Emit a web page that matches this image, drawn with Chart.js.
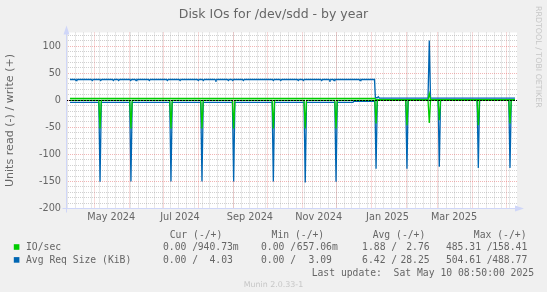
<!DOCTYPE html>
<html>
<head>
<meta charset="utf-8">
<title>Disk IOs for /dev/sdd - by year</title>
<script src="https://cdn.jsdelivr.net/npm/chart.js@4.4.1/dist/chart.umd.min.js"></script>
<style>
    html, body { margin: 0; padding: 0; background: #f0f0f0; }
    #wrap { width: 547px; height: 292px; }
</style>
</head>
<body>
<div id="wrap"><canvas id="diskChart" width="547" height="292"></canvas></div>
<script>
// Munin diskstats graph: Disk IOs for /dev/sdd, 400 day view
// x values are days since the left edge of the graph (5 Apr 2024 08:50 UTC)
// read is drawn below zero (-), write above zero (+)

const graphStart = Date.UTC(2024, 3, 5, 8, 50);
const graphDays = 400;

// Axis ticks
const monthStarts = ['2024-05-01', '2024-06-01', '2024-07-01', '2024-08-01', '2024-09-01',
    '2024-10-01', '2024-11-01', '2024-12-01', '2025-01-01', '2025-02-01', '2025-03-01',
    '2025-04-01', '2025-05-01'];
const monthLabelStarts = ['2024-05-01', '2024-07-01', '2024-09-01', '2024-11-01', '2025-01-01', '2025-03-01'];
const monthLabels = ['May 2024', 'Jul 2024', 'Sep 2024', 'Nov 2024', 'Jan 2025', 'Mar 2025'];
const firstWeekLine = '2024-04-07';
const yTickLabels = [-200, -150, -100, -50, 0, 50, 100];
const yMin = -200;
const yMax = 125;

// IO/sec, read (-)
const ioRead = [
    [3.5, -0.3],
    [29.1, -0.3], [30.2, -52], [31.3, -0.3],
    [56.5, -0.3], [57.6, -52], [58.7, -0.3],
    [92.0, -0.3], [93.1, -52], [94.2, -0.3],
    [119.5, -0.3], [120.6, -52], [121.7, -0.3],
    [147.6, -0.3], [148.7, -52], [149.8, -0.3],
    [182.8, -0.3], [183.9, -52], [185.0, -0.3],
    [211.1, -0.3], [212.2, -52], [213.3, -0.3],
    [238.4, -0.3], [239.5, -52], [240.6, -0.3],
    [273.9, -0.3], [275.0, -43], [276.1, -0.3],
    [301.3, -0.3], [302.4, -46], [303.5, -0.3],
    [321.1, -0.3], [322.2, -42], [323.3, -0.3],
    [330.0, -0.3], [331.1, -37], [332.2, -0.3],
    [364.6, -0.3], [365.7, -46], [366.8, -0.3],
    [392.7, -0.3], [393.8, -43], [394.9, -0.3],
    [398.2, -0.3]
];

// IO/sec, write (+)
const ioWrite = [
    [3.5, 3.1], [273.9, 3.1], [275.0, 1.0],
    [321.1, 1.0], [322.2, 12], [323.3, 1.0],
    [398.2, 1.0]
];

// Avg Req Size (KiB), read (-)
const reqRead = [
    [3.5, -4.2],
    [29.1, -4.2], [30.2, -150.8], [31.3, -4.2],
    [56.5, -4.2], [57.6, -150.2], [58.7, -4.2],
    [92.0, -4.2], [93.1, -150.2], [94.2, -4.2],
    [119.5, -4.2], [120.6, -150.2], [121.7, -4.2],
    [147.6, -4.2], [148.7, -150.2], [149.8, -4.2],
    [182.8, -4.2], [183.9, -150.2], [185.0, -4.2],
    [211.1, -4.2], [212.2, -152], [213.3, -4.2],
    [238.4, -4.2], [239.5, -150.8], [240.6, -4.2],
    [254.5, -4.2], [255.2, -2.0], [273.9, -2.0],
    [275.0, -126.8], [276.1, 0],
    [301.3, 0], [302.4, -126.8], [303.5, 0],
    [330.0, 0], [331.1, -123], [332.2, 0],
    [364.6, 0], [365.7, -125], [366.8, 0],
    [392.7, 0], [393.8, -125], [394.9, 0],
    [398.2, 0]
];

// Avg Req Size (KiB), write (+)
const reqWrite = [
    [3.5, 38.2], [8.1, 38.2], [8.9, 36.4], [9.7, 38.2],
    [22.5, 38.2], [23.3, 36.4], [24.1, 38.2],
    [30.0, 38.2], [30.8, 36.4], [31.6, 38.2],
    [41.2, 38.2], [42.0, 36.4], [42.8, 38.2],
    [45.9, 38.2], [46.7, 36.4], [47.5, 38.2],
    [56.6, 38.2], [57.4, 36.4], [58.2, 38.2],
    [61.3, 38.2], [62.1, 36.4], [62.9, 38.2],
    [73.1, 38.2], [73.9, 36.4], [74.7, 38.2],
    [89.1, 38.2], [89.9, 36.4], [90.7, 38.2],
    [100.4, 38.2], [101.2, 36.4], [102.0, 38.2],
    [116.5, 38.2], [117.3, 36.4], [118.1, 38.2],
    [121.0, 38.2], [121.8, 36.4], [122.6, 38.2],
    [132.2, 38.2], [133.0, 36.4], [133.8, 38.2],
    [143.2, 38.2], [144.0, 36.4], [144.8, 38.2],
    [147.1, 38.2], [147.9, 36.4], [148.7, 38.2],
    [156.5, 38.2], [157.3, 36.4], [158.1, 38.2],
    [183.1, 38.2], [183.9, 36.4], [184.7, 38.2],
    [189.7, 38.2], [190.5, 36.4], [191.3, 38.2],
    [205.2, 38.2], [206.0, 36.4], [206.8, 38.2],
    [209.7, 38.2], [210.5, 36.4], [211.3, 38.2],
    [226.0, 38.2], [226.8, 36.4], [227.6, 38.2],
    [233.3, 38.2], [234.1, 36.4], [234.9, 38.2],
    [237.0, 38.2], [237.7, 36.4], [238.5, 38.2],
    [260.0, 38.2], [260.8, 36.4], [261.6, 38.2],
    [273.6, 38.2], [274.4, 4.5], [276.1, 4.5], [277.0, 6.5], [277.9, 3.8],
    [321.1, 3.8], [322.2, 110], [323.3, 3.8],
    [398.2, 3.8]
];

// Legend table (text as printed under the graph)
const legendHeads = ['Cur (-/+)', 'Min (-/+)', 'Avg (-/+)', 'Max (-/+)'];
const legendNames = ['IO/sec', 'Avg Req Size (KiB)'];
const legendColors = ['#00cc00', '#0066b3'];
const legendReads = [['0.00 /', '0.00 /', '1.88 /', '485.31 /'], ['0.00 /', '0.00 /', '6.42 /', '504.61 /']];
const legendWrites = [['940.73m', '657.06m', '2.76 ', '158.41 '], ['4.03 ', '3.09 ', '28.25 ', '488.77 ']];
const lastUpdate = 'Last update:  Sat May 10 08:50:00 2025';

const FONT_COLOR = '#666666';
const AXIS_COLOR = '#cfd6f8';
const MINOR_GRID = 'rgba(143,143,143,0.42)';
const MAJOR_GRID = 'rgba(222,79,79,0.42)';

function dayOf(iso) {
    return (Date.parse(iso + 'T00:00:00Z') - graphStart) / 86400000;
}

function toPoints(pairs) {
    return pairs.map(p => ({ x: p[0], y: p[1] }));
}

// Background, zero line, axis arrows, title and the legend table
const muninDecor = {
    id: 'muninDecor',
    beforeDraw(chart) {
        const { ctx, chartArea: a } = chart;
        ctx.save();
        ctx.fillStyle = '#f0f0f0';
        ctx.fillRect(0, 0, chart.width, chart.height);
        ctx.fillStyle = '#ffffff';
        ctx.fillRect(a.left, a.top, a.right - a.left, a.bottom - a.top);
        ctx.restore();
    },
    afterDatasetsDraw(chart) {
        const { ctx, chartArea: a } = chart;
        const y0 = Math.round(chart.scales.y.getPixelForValue(0)) + 0.5;
        ctx.save();
        ctx.strokeStyle = '#000000';
        ctx.lineWidth = 1;
        ctx.setLineDash([2, 1]);
        ctx.beginPath();
        ctx.moveTo(a.left, y0);
        ctx.lineTo(a.right, y0);
        ctx.stroke();
        ctx.restore();
    },
    afterDraw(chart) {
        const { ctx, chartArea: a } = chart;
        const ax = Math.floor(a.left) + 0.5;
        const ay = Math.floor(a.bottom) + 0.5;
        ctx.save();

        // axes with arrows
        ctx.strokeStyle = AXIS_COLOR;
        ctx.fillStyle = AXIS_COLOR;
        ctx.lineWidth = 1;
        ctx.beginPath();
        ctx.moveTo(ax - 4, ay);
        ctx.lineTo(a.right + 4, ay);
        ctx.moveTo(ax, ay + 4);
        ctx.lineTo(ax, a.top - 4);
        ctx.stroke();
        ctx.beginPath();
        ctx.moveTo(a.right - 2, ay - 3);
        ctx.lineTo(a.right - 2, ay + 3);
        ctx.lineTo(a.right + 7, ay);
        ctx.closePath();
        ctx.fill();
        ctx.beginPath();
        ctx.moveTo(ax - 3, a.top + 2);
        ctx.lineTo(ax + 3, a.top + 2);
        ctx.lineTo(ax, a.top - 7);
        ctx.closePath();
        ctx.fill();

        // title
        ctx.fillStyle = FONT_COLOR;
        ctx.font = '12.5px "DejaVu Sans"';
        ctx.textAlign = 'center';
        ctx.textBaseline = 'alphabetic';
        ctx.fillText('Disk IOs for /dev/sdd - by year', 273.5, 18);

        // watermarks
        ctx.fillStyle = '#c6c6c6';
        ctx.font = '7.9px "DejaVu Sans"';
        ctx.textBaseline = 'middle';
        ctx.fillText('Munin 2.0.33-1', 273.5, 285);
        ctx.save();
        ctx.translate(542, 6);
        ctx.rotate(Math.PI / 2);
        ctx.textAlign = 'left';
        ctx.textBaseline = 'top';
        ctx.fillText('RRDTOOL / TOBI OETIKER', 0, 0);
        ctx.restore();

        // legend table
        const headEnds = [222.3, 324.2, 425.3, 526.5];
        const readLefts = [163.0, 261.0, 362.1, 445.9];
        const writeEnds = [238.7, 337.8, 435.5, 533.1];
        const rowY = [247.8, 260.7];
        ctx.font = '9.72px "DejaVu Sans Mono"';
        ctx.fillStyle = FONT_COLOR;
        ctx.textBaseline = 'middle';
        ctx.textAlign = 'right';
        legendHeads.forEach((h, i) => ctx.fillText(h, headEnds[i], 235.2));
        legendNames.forEach((name, r) => {
            ctx.fillStyle = legendColors[r];
            ctx.fillRect(13.8, rowY[r] - 3.6, 5.6, 5.6);
            ctx.fillStyle = FONT_COLOR;
            ctx.textAlign = 'left';
            ctx.fillText(name, 26, rowY[r]);
            for (let c = 0; c < 4; c++) {
                ctx.textAlign = 'left';
                ctx.fillText(legendReads[r][c], readLefts[c], rowY[r]);
                ctx.textAlign = 'right';
                ctx.fillText(legendWrites[r][c], writeEnds[c], rowY[r]);
            }
        });
        ctx.textAlign = 'right';
        ctx.fillText(lastUpdate, 534, 273);
        ctx.restore();
    }
};

function buildXTicks(scale) {
    const ticks = [];
    for (let d = dayOf(firstWeekLine); d < graphDays; d += 7) {
        ticks.push({ value: d, kind: 'week' });
    }
    monthStarts.forEach(m => ticks.push({ value: dayOf(m), kind: 'month' }));
    monthLabels.forEach((text, i) => {
        ticks.push({ value: dayOf(monthLabelStarts[i]) + 14.5, kind: 'label', text: text });
    });
    ticks.sort((a, b) => a.value - b.value);
    scale.ticks = ticks;
}

function buildYTicks(scale) {
    const ticks = [];
    for (let v = yMin; v < yMax; v += 10) {
        ticks.push({ value: v });
    }
    scale.ticks = ticks;
}

function gridColor(ctx) {
    const t = ctx.tick;
    if (!t || t.kind === 'label') return 'rgba(0,0,0,0)';
    if (t.kind === 'month') return MAJOR_GRID;
    if (t.kind === 'week') return MINOR_GRID;
    return t.value % 50 === 0 ? MAJOR_GRID : MINOR_GRID;
}

function gridDash(ctx) {
    return ctx.tick ? [1, 1] : [];
}

const lineStyle = {
    borderWidth: 1.3,
    pointRadius: 0,
    fill: false,
    tension: 0
};

const chart = new Chart(document.getElementById('diskChart'), {
    type: 'line',
    data: {
        datasets: [
            { label: 'IO/sec read', data: toPoints(ioRead), borderColor: '#00cc00', ...lineStyle },
            { label: 'IO/sec write', data: toPoints(ioWrite), borderColor: '#00cc00', ...lineStyle },
            { label: 'Avg Req Size read', data: toPoints(reqRead), borderColor: '#0066b3', ...lineStyle },
            { label: 'Avg Req Size write', data: toPoints(reqWrite), borderColor: '#0066b3', ...lineStyle }
        ]
    },
    options: {
        responsive: false,
        animation: false,
        events: [],
        layout: {
            padding: { top: 32.5, right: 30, bottom: 0, left: 0 }
        },
        plugins: {
            legend: { display: false },
            title: { display: false },
            tooltip: { enabled: false }
        },
        scales: {
            x: {
                type: 'linear',
                min: 0,
                max: graphDays,
                afterBuildTicks: buildXTicks,
                afterFit: scale => { scale.height = 83.5; },
                grid: { color: gridColor, lineWidth: 1, drawTicks: false },
                border: { display: false, dash: gridDash },
                ticks: {
                    autoSkip: false,
                    maxRotation: 0,
                    minRotation: 0,
                    padding: 3,
                    color: FONT_COLOR,
                    font: { family: '"DejaVu Sans"', size: 9.72 },
                    callback: (value, index, ticks) => ticks[index].text || ''
                }
            },
            y: {
                type: 'linear',
                min: yMin,
                max: yMax,
                afterBuildTicks: buildYTicks,
                afterFit: scale => { scale.width = 66; },
                grid: { color: gridColor, lineWidth: 1, drawTicks: false },
                border: { display: false, dash: gridDash },
                title: {
                    display: true,
                    text: 'Units read (-) / write (+)',
                    color: FONT_COLOR,
                    font: { family: '"DejaVu Sans"', size: 11.1 },
                    padding: { top: 3.6, bottom: 0 }
                },
                ticks: {
                    autoSkip: false,
                    padding: 5,
                    color: FONT_COLOR,
                    font: { family: '"DejaVu Sans"', size: 9.72 },
                    callback: value => yTickLabels.includes(value) ? String(value) : ''
                }
            }
        }
    },
    plugins: [muninDecor]
});
</script>
</body>
</html>
